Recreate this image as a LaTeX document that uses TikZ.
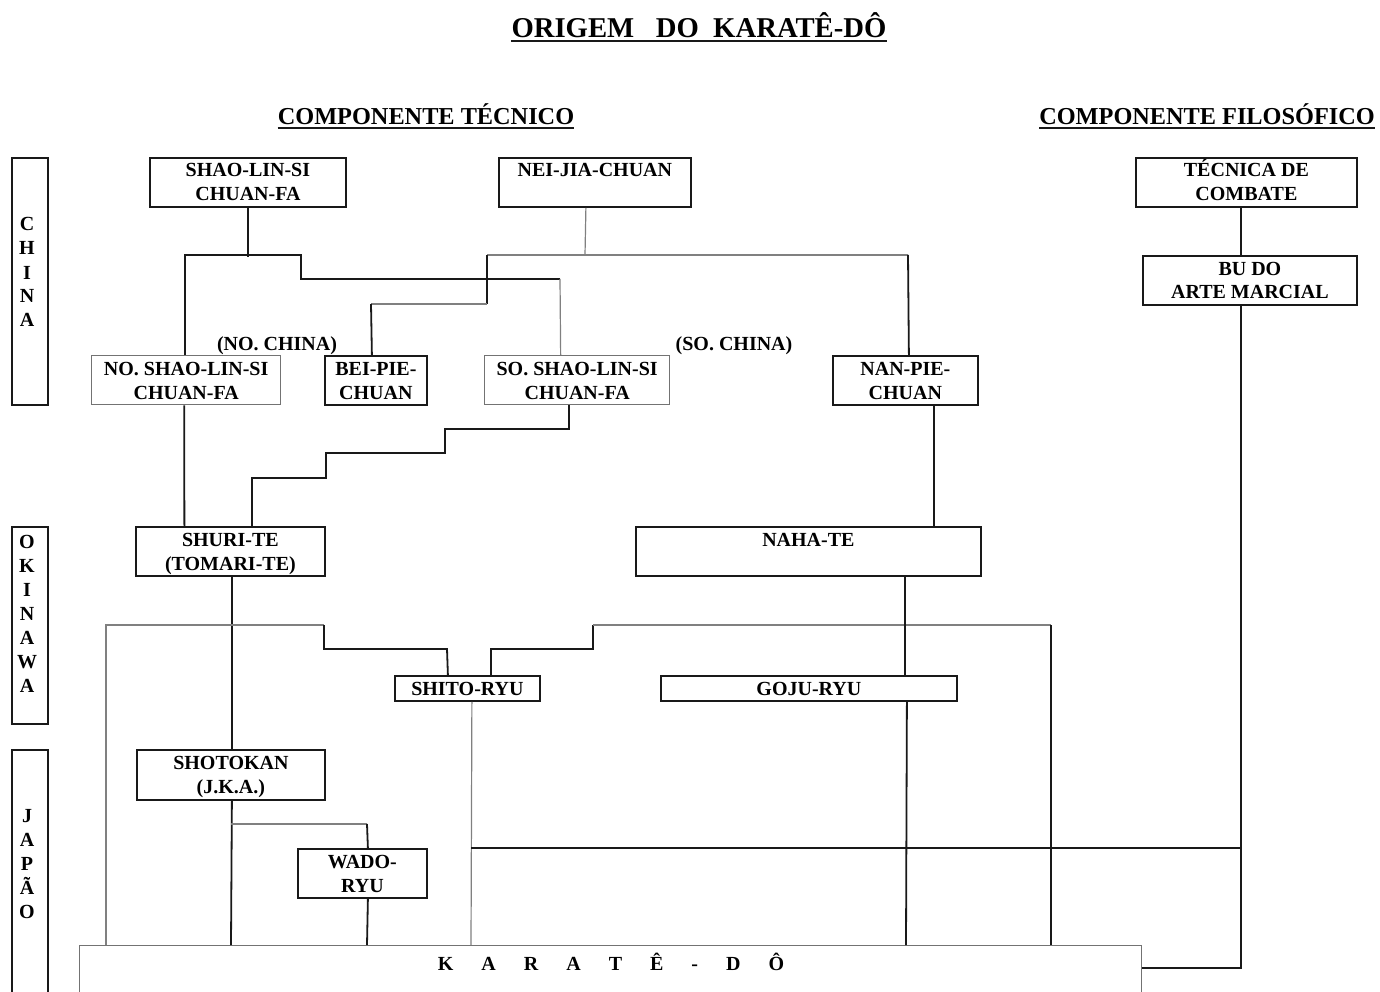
\documentclass[tikz,border=0pt]{standalone}
\usepackage{fontspec}
\setmainfont{Liberation Serif}
\usetikzlibrary{calc}
\newcommand{\stk}[1]{\begin{tabular}[t]{@{}c@{}}#1\end{tabular}}
\begin{document}
\begin{tikzpicture}[x=1pt,y=-1pt,
  bx/.style={draw=black!90,line width=1.8pt,fill=none,inner sep=0pt,anchor=north west},
  gbx/.style={bx,draw=black!55,line width=1.3pt},
  tx/.style={anchor=base,inner sep=0pt,font=\fontsize{20}{24}\selectfont\bfseries},
  hd/.style={anchor=base,inner sep=0pt,font=\fontsize{24.3}{28}\selectfont\bfseries},
  ln/.style={draw=black!90,line width=1.8pt},
  gl/.style={draw=black!50,line width=1.2pt},
  ul/.style={draw=black!90,line width=2.4pt},
]
\useasboundingbox (0,0) rectangle (1380,992);
\fill[white] (0,0) rectangle (1380,992);

% headings
\node[anchor=base,inner sep=0pt,font=\fontsize{28.7}{32}\selectfont\bfseries] (title) at (699,37.5) {ORIGEM\hspace{0.75em}DO\hspace{0.5em}KARATÊ-DÔ};
\draw[ul] ([yshift=-3.5pt]title.base west) -- ([yshift=-3.5pt]title.base east);
\node[hd] (ct) at (426,125) {COMPONENTE TÉCNICO};
\draw[ul,line width=2pt] ([yshift=-3pt]ct.base west) -- ([yshift=-3pt]ct.base east);
\node[hd] (cf) at (1207,125) {COMPONENTE FILOSÓFICO};
\draw[ul,line width=2pt] ([yshift=-3pt]cf.base west) -- ([yshift=-3pt]cf.base east);

% side bars
\node[bx,minimum width=36,minimum height=247] (china) at (11,157) {};
\node[tx] (chinaT) at (27,231) {\stk{C\\H\\I\\N\\A}};
\node[bx,minimum width=36,minimum height=197] (oki) at (11,526) {};
\node[tx] (okiT) at (27,548) {\stk{O\\K\\I\\N\\A\\W\\A}};
\node[bx,minimum width=36,minimum height=260] (jap) at (11,749) {};
\node[tx] (japT) at (27,822) {\stk{J\\A\\P\\Ã\\O}};

% boxes
\node[bx,minimum width=196,minimum height=49] (sls) at (149,157) {};
\node[tx] at ([yshift=-20pt]sls.north) {\stk{SHAO-LIN-SI\\CHUAN-FA}};
\node[bx,minimum width=192,minimum height=49] (nei) at (498,157) {};
\node[tx] at ([yshift=-20pt]nei.north) {NEI-JIA-CHUAN};
\node[bx,minimum width=221,minimum height=49] (tec) at (1135,157) {};
\node[tx] at ([yshift=-20pt]tec.north) {\stk{TÉCNICA DE\\COMBATE}};
\node[bx,minimum width=214,minimum height=49] (budo) at (1142,255) {};
\node[tx] at ([yshift=-20pt]budo.north) {\stk{BU DO\\ARTE MARCIAL}};

\node[gbx,minimum width=189,minimum height=49] (nos) at (91,355) {};
\node[tx] at ([yshift=-20pt]nos.north) {\stk{NO. SHAO-LIN-SI\\CHUAN-FA}};
\node[bx,minimum width=102,minimum height=49] (bei) at (324,355) {};
\node[tx] at ([yshift=-20pt]bei.north) {\stk{BEI-PIE-\\CHUAN}};
\node[gbx,minimum width=185,minimum height=49] (sos) at (484,355) {};
\node[tx] at ([yshift=-20pt]sos.north) {\stk{SO. SHAO-LIN-SI\\CHUAN-FA}};
\node[bx,minimum width=145,minimum height=49] (nan) at (832,355) {};
\node[tx] at ([yshift=-20pt]nan.north) {\stk{NAN-PIE-\\CHUAN}};
\node[tx] (noc) at (277,350) {(NO. CHINA)};
\node[tx] (soc) at (734,350) {(SO. CHINA)};

\node[bx,minimum width=189,minimum height=49] (shuri) at (135,526) {};
\node[tx] at ([yshift=-20pt]shuri.north) {\stk{SHURI-TE\\(TOMARI-TE)}};
\node[bx,minimum width=345,minimum height=49] (naha) at (635,526) {};
\node[tx] at ([yshift=-20pt]naha.north) {NAHA-TE};
\node[bx,minimum width=145,minimum height=25] (shito) at (394,675) {};
\node[tx] at ([yshift=-20pt]shito.north) {SHITO-RYU};
\node[bx,minimum width=296,minimum height=25] (goju) at (660,675) {};
\node[tx] at ([yshift=-20pt]goju.north) {GOJU-RYU};
\node[bx,minimum width=188,minimum height=50] (shot) at (136,749) {};
\node[tx] at ([yshift=-20pt]shot.north) {\stk{SHOTOKAN\\(J.K.A.)}};
\node[bx,minimum width=129,minimum height=49] (wado) at (297,848) {};
\node[tx] at ([yshift=-20pt]wado.north) {\stk{WADO-\\RYU}};
\node[gbx,minimum width=1062,minimum height=70] (kar) at (79,945) {};
\node[tx] (kt) at (611,970) {K\hspace{28pt}A\hspace{28pt}R\hspace{28pt}A\hspace{28pt}T\hspace{28pt}Ê\hspace{28pt}-\hspace{28pt}D\hspace{28pt}Ô};

% China connectors
\draw[ln] (sls.south) -- ++(0,49);
\draw[ln] ([xshift=-1.5pt]nos.north) |- (301,255) -- (301,279) -- (560,279);
\draw[gl] (560,279) -- ([xshift=-16.5pt]sos.north);
\draw[gl] ([xshift=-9pt]nei.south) -- (585,255);
\draw[gl] (487,255) -- (908,255);
\draw[ln] (908,255) -- ([xshift=3.5pt]nan.north);
\draw[ln] (487,255) -- (487,304);
\draw[gl] (487,304) -- (371,304);
\draw[ln] (371,304) -- ([xshift=-4pt]bei.north);

% to Okinawa
\draw[ln] ([xshift=-2pt]nos.south) -- ([xshift=-46pt]shuri.north);
\draw[ln] ([xshift=-8.5pt]sos.south) -- ++(0,24) -| (445,453) -| (326,478) -| ([xshift=21.5pt]shuri.north);
\draw[ln] ([xshift=28.5pt]nan.south) -- ([xshift=125.5pt]naha.north);

% Okinawa / Japan
\draw[ln] ([xshift=1.5pt]shuri.south) -- ([xshift=1pt]shot.north);
\draw[gl] ([xshift=27pt]kar.north west) |- (324,625);
\draw[ln] (324,625) |- (447,649) -- ([xshift=-19.5pt]shito.north);
\draw[ln] ([xshift=23.5pt]shito.north) |- (593,649) -- (593,625);
\draw[gl] (593,625) -- (1051,625);
\draw[ln] (1051,625) -- ([xshift=972pt]kar.north west);
\draw[ln] ([xshift=96.5pt]naha.south) -- ([xshift=96pt]goju.north);
\draw[ln] ([xshift=98pt]goju.south) -- ([xshift=827pt]kar.north west);
\draw[gl] ([xshift=4.5pt]shito.south) -- ([xshift=392pt]kar.north west);
\draw[ln] (471,848) -- (1240,848);
\draw[ln] ([xshift=-5.5pt]tec.south) -- ([xshift=-9pt]budo.north);
\draw[ln] ([xshift=-9pt]budo.south) |- ([yshift=-23pt]kar.north east);
\draw[ln] ([xshift=1pt]shot.south) -- ([xshift=152pt]kar.north west);
\draw[gl] (231,824) -- (367,824);
\draw[ln] (367,824) -- ([xshift=5.5pt]wado.north);
\draw[ln] ([xshift=5.5pt]wado.south) -- ([xshift=288pt]kar.north west);
\end{tikzpicture}
\end{document}
